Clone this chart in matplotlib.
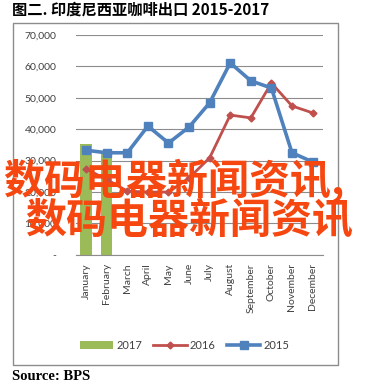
import matplotlib
matplotlib.use("Agg")
import matplotlib.pyplot as plt
import matplotlib.ticker as mtick
from matplotlib.patches import Rectangle

months = ["January", "February", "March", "April", "May", "June",
          "July", "August", "September", "October", "November", "December"]
exports_2017 = [35300, 32800]
exports_2016 = [27300, 24000, 20300, 20000, 20000, 24500,
                30900, 44500, 43600, 54700, 47400, 45200]
exports_2015 = [33300, 32500, 32500, 41000, 35600, 40700,
                48400, 61100, 55400, 53100, 32500, 29600]

plt.rcParams['font.family'] = ['Lato', 'DejaVu Sans']

fig = plt.figure(figsize=(3.89, 3.88), dpi=100)
ax = fig.add_axes([0.195, 0.343, 0.635, 0.567])

x = range(len(months))
b17 = ax.bar(range(len(exports_2017)), exports_2017, width=0.55,
             color="#9BBB59", label="2017", zorder=2)
l16, = ax.plot(x, exports_2016, color="#C0504D", lw=2, marker="D", ms=3.5,
               label="2016", zorder=3)
l15, = ax.plot(x, exports_2015, color="#4F81BD", lw=2.6, marker="s", ms=5.5,
               label="2015", zorder=4)

ax.set_xlim(-0.5, 11.5)
ax.set_ylim(0, 70000)
ax.set_yticks(range(0, 70001, 10000))
ax.yaxis.set_major_formatter(mtick.FuncFormatter(
    lambda v, p: "-" if v == 0 else f"{v:,.0f}"))
ax.set_xticks(list(x))
ax.set_xticklabels(months, rotation=90)
ax.tick_params(axis="both", length=0, labelsize=7.5, colors="#404040")
ax.tick_params(axis="y", pad=14)
ax.tick_params(axis="x", pad=6)
ax.grid(True, axis="y", color="#8C8C8C", lw=0.8)
ax.set_axisbelow(True)
for side in ["top", "right", "left"]:
    ax.spines[side].set_visible(False)
ax.spines["bottom"].set_color("#8C8C8C")

ax.legend([b17, l16, l15], ["2017", "2016", "2015"], loc="center",
          bbox_to_anchor=(0.44, -0.41), ncol=3, frameon=False,
          fontsize=8, handlelength=3.0, columnspacing=1.0, handletextpad=0.3,
          labelcolor="#404040")

# chart frame
fig.patches.append(Rectangle((13 / 389, 1 - 365 / 388), 325 / 389, 342 / 388,
                             transform=fig.transFigure, fill=False,
                             edgecolor="#8C8C8C", lw=1))

fig.text(12 / 389, 1 - 10 / 388, "图二. 印度尼西亚咖啡出口 2015-2017",
         family=['Noto Sans CJK SC', 'DejaVu Sans'], fontweight="bold",
         fontsize=11, va="center", ha="left")
fig.text(12 / 389, 1 - 377 / 388, "Source: BPS", family="Liberation Serif",
         fontweight="bold", fontsize=10.5, va="center", ha="left")

# overlay text
fig.text(3 / 389, 1 - 181 / 388, "数码电器新闻资讯,", color="#F5470F",
         family=['Noto Sans CJK SC', 'DejaVu Sans'], fontweight="bold",
         fontsize=29.5, va="center", ha="left")
fig.text(25 / 389, 1 - 220 / 388, "数码电器新闻资讯", color="#F5470F",
         family=['Noto Sans CJK SC', 'DejaVu Sans'], fontweight="bold",
         fontsize=29.5, va="center", ha="left")

fig.savefig("out.png", dpi=100)
